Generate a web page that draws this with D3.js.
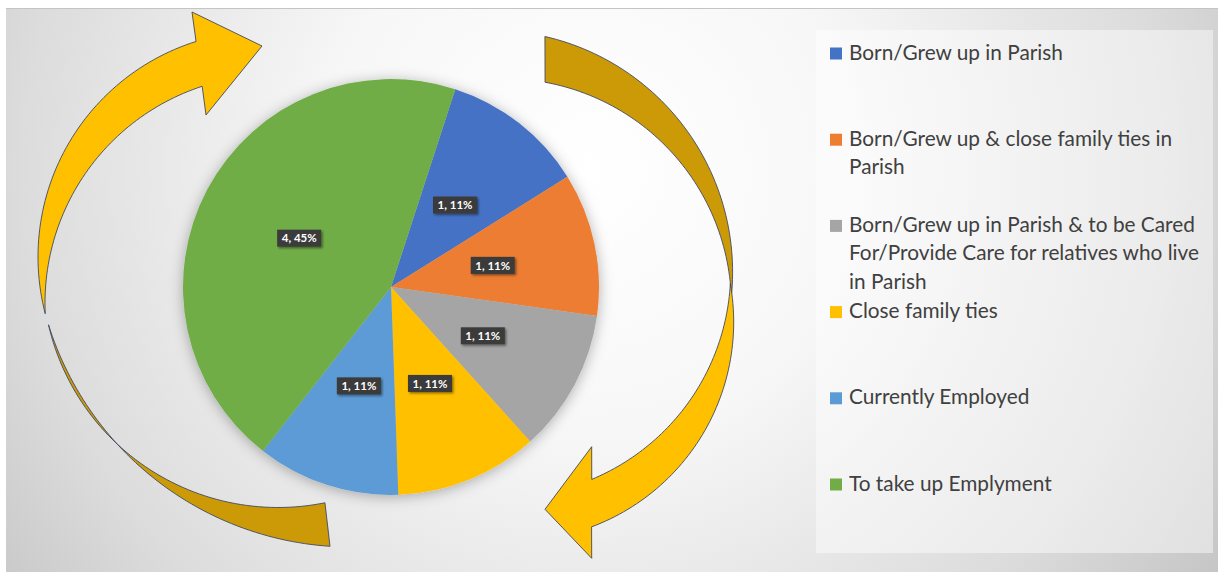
<!DOCTYPE html>
<html>
<head>
<meta charset="utf-8">
<script src="https://cdn.jsdelivr.net/npm/d3@7"></script>
<style>
  body { margin: 0; background: #fff; }
  svg { display: block; }
</style>
</head>
<body>
<div id="chart"></div>
<script>
// Reasons for living in the parish
const categories = [
  "Born/Grew up in Parish",
  "Born/Grew up & close family ties in Parish",
  "Born/Grew up in Parish & to be Cared For/Provide Care for relatives who live in Parish",
  "Close family ties",
  "Currently Employed",
  "To take up Emplyment"
];
const counts = [1, 1, 1, 1, 1, 4];
const percentLabels = ["11%", "11%", "11%", "11%", "11%", "45%"];
const colors = ["#4472C4", "#ED7D31", "#A5A5A5", "#FFC000", "#5B9BD5", "#70AD47"];

const width = 1218;
const height = 574;

const svg = d3
  .select("#chart")
  .append("svg")
  .attr("width", width)
  .attr("height", height);

const defs = svg.append("defs");

// background: radial grey gradient
const bg = defs
  .append("radialGradient")
  .attr("id", "bg")
  .attr("gradientUnits", "userSpaceOnUse")
  .attr("cx", 590)
  .attr("cy", 170)
  .attr("r", 760);
bg.append("stop").attr("offset", 0).attr("stop-color", "#ffffff");
bg.append("stop").attr("offset", 0.35).attr("stop-color", "#f7f7f7");
bg.append("stop").attr("offset", 0.75).attr("stop-color", "#dcdcdc");
bg.append("stop").attr("offset", 1).attr("stop-color", "#c4c4c4");

const pieShadow = defs.append("filter").attr("id", "pieShadow")
  .attr("x", "-20%").attr("y", "-20%").attr("width", "140%").attr("height", "140%");
pieShadow.append("feDropShadow")
  .attr("dx", 0).attr("dy", 2).attr("stdDeviation", 7)
  .attr("flood-color", "#000").attr("flood-opacity", 0.3);

const labelShadow = defs.append("filter").attr("id", "labelShadow")
  .attr("x", "-30%").attr("y", "-40%").attr("width", "160%").attr("height", "180%");
labelShadow.append("feDropShadow")
  .attr("dx", 1.5).attr("dy", 1.5).attr("stdDeviation", 1)
  .attr("flood-color", "#000").attr("flood-opacity", 0.45);

svg.append("rect")
  .attr("x", 6).attr("y", 8)
  .attr("width", width - 6).attr("height", 564)
  .attr("fill", "url(#bg)");
svg.append("line")
  .attr("x1", 6).attr("x2", width)
  .attr("y1", 8.5).attr("y2", 8.5)
  .attr("stroke", "#c4c4c4");

// ---- circular arrows around the pie ----
// each edge is a circle arc {x, y, r, a0, a1} (degrees, screen coords)
const arrowShapes = [
  {
    fill: "#FFC000",
    outer: { x: 264, y: 257, r: 226, a0: 165.5, a1: 252.5 },
    head: [[192, 12], [262, 46], [206, 115]],
    inner: { x: 273, y: 303, r: 228, a0: 251.9, a1: 177.3 }
  },
  {
    fill: "#CC9A06",
    outer: { x: 351, y: 230, r: 317, a0: 162.6, a1: 93.8 },
    head: [],
    inner: { x: 278, y: 272, r: 235.5, a0: 78.5, a1: 167 }
  },
  {
    fill: "#CC9A06",
    outer: { x: 491, y: 272, r: 241.6, a0: -77.1, a1: 5.9 },
    head: [],
    inner: { x: 504, y: 306, r: 227.5, a0: -2.3, a1: -79.6 }
  },
  {
    fill: "#FFC000",
    outer: { x: 515, y: 322, r: 218.7, a0: -10.1, a1: 69.5 },
    head: [[591.7, 558.3], [545, 509.3], [591.7, 446.7]],
    inner: { x: 505, y: 271, r: 225.7, a0: 67.4, a1: 3.3 }
  }
];

function arcPoints(c, n) {
  return d3.range(n + 1).map((i) => {
    const a = ((c.a0 + ((c.a1 - c.a0) * i) / n) * Math.PI) / 180;
    return [c.x + c.r * Math.cos(a), c.y + c.r * Math.sin(a)];
  });
}

const arrowLine = d3.line().curve(d3.curveLinear);
const arrowGroup = svg.append("g");
arrowShapes.forEach((s) => {
  const pts = arcPoints(s.outer, 60).concat(s.head, arcPoints(s.inner, 60));
  arrowGroup
    .append("path")
    .attr("d", arrowLine(pts) + "Z")
    .attr("fill", s.fill)
    .attr("stroke", "#3f4a63")
    .attr("stroke-width", 0.9)
    .attr("stroke-linejoin", "miter");
});

// ---- pie ----
const cx = 391;
const cy = 287;
const radius = 208;
const start = (18 * Math.PI) / 180;

const slices = categories.map((c, i) => ({
  category: c,
  count: counts[i],
  pct: percentLabels[i],
  color: colors[i]
}));

const pie = d3
  .pie()
  .sort(null)
  .value((d) => d.count)
  .startAngle(start)
  .endAngle(start + 2 * Math.PI);

const arc = d3.arc().innerRadius(0).outerRadius(radius);
const labelArc = d3.arc().innerRadius(0).outerRadius(radius);

const pieGroup = svg
  .append("g")
  .attr("transform", `translate(${cx},${cy})`);

pieGroup
  .append("g")
  .attr("filter", "url(#pieShadow)")
  .selectAll("path")
  .data(pie(slices))
  .join("path")
  .attr("d", arc)
  .attr("fill", (d) => d.data.color);

const labels = pieGroup
  .selectAll("g.label")
  .data(pie(slices))
  .join("g")
  .attr("class", "label")
  .attr("transform", (d) => `translate(${labelArc.centroid(d)})`);

labels
  .append("rect")
  .attr("x", -22)
  .attr("y", -8.5)
  .attr("width", 44)
  .attr("height", 17)
  .attr("fill", "#3a3a3a")
  .attr("filter", "url(#labelShadow)");

labels
  .append("text")
  .attr("text-anchor", "middle")
  .attr("dy", "0.36em")
  .attr("font-family", "Lato, 'Open Sans', sans-serif")
  .attr("font-weight", "bold")
  .attr("font-size", "11.5px")
  .attr("fill", "#ffffff")
  .text((d) => `${d.data.count}, ${d.data.pct}`);

// ---- legend ----
svg.append("rect")
  .attr("x", 816).attr("y", 30)
  .attr("width", 397).attr("height", 523)
  .attr("fill", "#ffffff")
  .attr("fill-opacity", 0.45);

const legendY = d3
  .scalePoint()
  .domain(categories)
  .range([53.5, 53.5 + 5 * 86.2]);

const legendFontSize = 20.8;
const lineHeight = 28.5;
const maxTextWidth = 366;

const legend = svg
  .append("g")
  .selectAll("g")
  .data(slices)
  .join("g")
  .attr("transform", (d) => `translate(830,${legendY(d.category)})`);

legend
  .append("rect")
  .attr("x", 0)
  .attr("y", -6)
  .attr("width", 12)
  .attr("height", 12)
  .attr("fill", (d) => d.color);

legend.each(function (d) {
  const text = d3
    .select(this)
    .append("text")
    .attr("x", 19)
    .attr("y", 6)
    .attr("font-family", "Lato, 'Open Sans', sans-serif")
    .attr("font-size", legendFontSize + "px")
    .attr("fill", "#404040");

  // wrap the label to the legend width
  const words = d.category.split(" ");
  let line = [];
  let lineNo = 0;
  let tspan = text.append("tspan").attr("x", 19).attr("y", 6);
  words.forEach((w) => {
    line.push(w);
    tspan.text(line.join(" "));
    if (tspan.node().getComputedTextLength() > maxTextWidth && line.length > 1) {
      line.pop();
      tspan.text(line.join(" "));
      line = [w];
      lineNo += 1;
      tspan = text
        .append("tspan")
        .attr("x", 19)
        .attr("y", 6 + lineNo * lineHeight)
        .text(w);
    }
  });
});
</script>
</body>
</html>
